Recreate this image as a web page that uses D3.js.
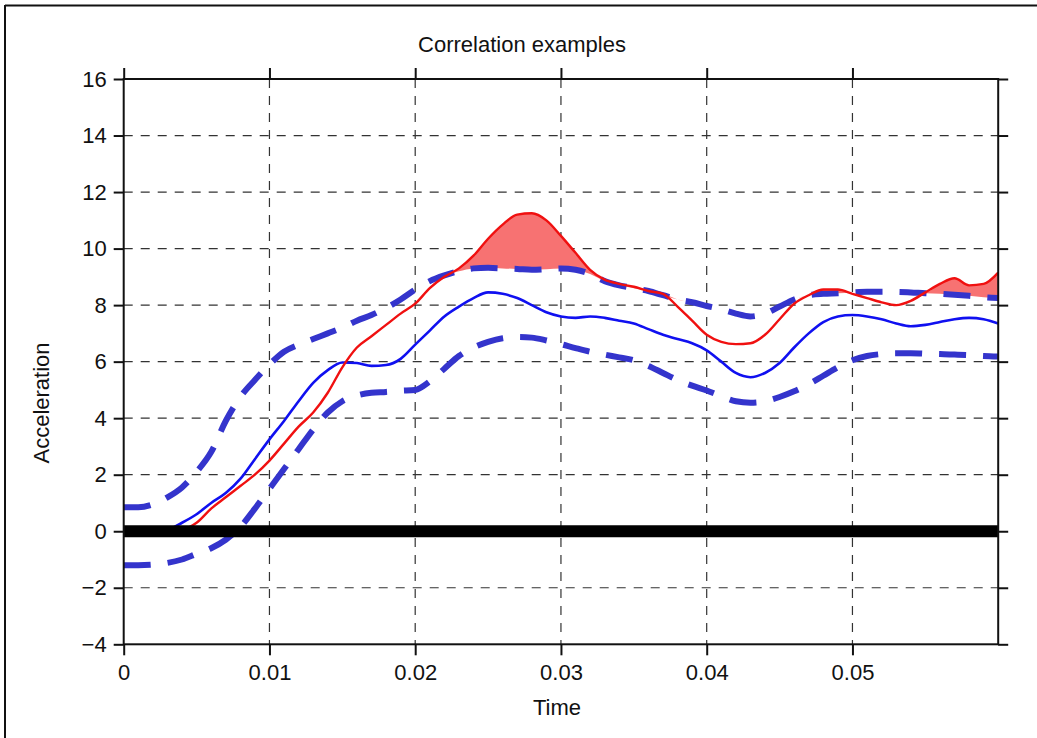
<!DOCTYPE html>
<html>
<head>
<meta charset="utf-8">
<script src="https://cdn.jsdelivr.net/npm/d3@7/dist/d3.min.js"></script>
<style>
  html, body { margin: 0; padding: 0; background: #fff; }
  svg { display: block; }
  text { font-family: "Liberation Sans", Arial, sans-serif; fill: #111; }
</style>
</head>
<body>
<svg id="chart" width="1037" height="738"></svg>
<script>
// ---- Data ----
const title = "Correlation examples";
const xLabel = "Time";
const yLabel = "Acceleration";

const time = [0.000,0.001,0.002,0.003,0.004,0.005,0.006,0.007,0.008,0.009,
              0.010,0.011,0.012,0.013,0.014,0.015,0.016,0.017,0.018,0.019,
              0.020,0.021,0.022,0.023,0.024,0.025,0.026,0.027,0.028,0.029,
              0.030,0.031,0.032,0.033,0.034,0.035,0.036,0.037,0.038,0.039,
              0.040,0.041,0.042,0.043,0.044,0.045,0.046,0.047,0.048,0.049,
              0.050,0.051,0.052,0.053,0.054,0.055,0.056,0.057,0.058,0.059,0.060];

const signal = [0,0,0,0,0.05,0.3,0.8,1.2,1.6,2.0,
                2.5,3.1,3.7,4.2,4.9,5.8,6.5,6.9,7.3,7.7,
                8.05,8.6,9.0,9.3,9.75,10.35,10.85,11.2,11.25,11.0,
                10.45,9.85,9.25,8.9,8.75,8.65,8.5,8.4,7.95,7.45,
                6.95,6.7,6.62,6.65,6.95,7.5,8.05,8.35,8.55,8.55,
                8.4,8.25,8.1,8.0,8.15,8.45,8.75,8.95,8.7,8.75,9.15];

const mean = [0,0,0,0.05,0.3,0.6,1.0,1.35,1.85,2.55,
              3.25,3.9,4.6,5.25,5.7,5.97,5.95,5.85,5.88,6.1,
              6.6,7.1,7.6,7.95,8.25,8.45,8.4,8.25,8.0,7.75,
              7.6,7.55,7.6,7.55,7.45,7.35,7.15,6.95,6.8,6.65,
              6.4,6.0,5.6,5.45,5.6,5.95,6.5,7.0,7.4,7.6,
              7.65,7.6,7.5,7.35,7.25,7.3,7.4,7.5,7.55,7.5,7.35];

const upper = [0.85,0.85,0.95,1.2,1.55,2.1,2.8,3.9,4.75,5.35,
               5.9,6.35,6.6,6.8,7.0,7.2,7.45,7.65,7.9,8.2,
               8.55,8.85,9.05,9.2,9.3,9.32,9.3,9.28,9.25,9.27,
               9.3,9.25,9.1,8.85,8.7,8.6,8.5,8.35,8.2,8.1,
               7.97,7.85,7.7,7.6,7.7,7.95,8.2,8.35,8.4,8.42,
               8.45,8.47,8.47,8.47,8.45,8.42,8.4,8.37,8.33,8.28,8.25];

const lower = [-1.2,-1.2,-1.18,-1.12,-1.0,-0.8,-0.6,-0.3,0.15,0.8,
               1.5,2.2,2.9,3.6,4.2,4.6,4.8,4.9,4.93,4.97,
               5.0,5.3,5.75,6.2,6.5,6.7,6.83,6.87,6.85,6.75,
               6.62,6.48,6.35,6.25,6.15,6.05,5.85,5.6,5.35,5.15,
               4.98,4.78,4.6,4.55,4.6,4.75,4.95,5.2,5.5,5.8,
               6.05,6.2,6.27,6.3,6.3,6.28,6.27,6.25,6.23,6.2,6.18];

const xTicks = [0, 0.01, 0.02, 0.03, 0.04, 0.05];
const xTickLabels = ["0", "0.01", "0.02", "0.03", "0.04", "0.05"];
const yTicks = [-4, -2, 0, 2, 4, 6, 8, 10, 12, 14, 16];
const xDomain = [0, 0.06];
const yDomain = [-4, 16];

// ---- Layout ----
const svg = d3.select("#chart");
const L = 123.7, R = 998.2, T = 79, B = 644.3;
const FONT = "'Liberation Sans', Arial, sans-serif";

const x = d3.scaleLinear().domain(xDomain).range([L, R]);
const y = d3.scaleLinear().domain(yDomain).range([B, T]);

// outer figure frame
svg.append("line").attr("x1", 5).attr("x2", 1037).attr("y1", 5.5).attr("y2", 5.5)
  .attr("stroke", "#111").attr("stroke-width", 2);
svg.append("line").attr("x1", 5).attr("x2", 5).attr("y1", 5).attr("y2", 738)
  .attr("stroke", "#111").attr("stroke-width", 2);

// grid
const grid = svg.append("g");
xTicks.slice(1).forEach(t => {
  grid.append("line").attr("x1", x(t)).attr("x2", x(t)).attr("y1", T).attr("y2", B)
    .attr("stroke", "#333").attr("stroke-width", 1.2).attr("stroke-dasharray", "9,8");
});
yTicks.slice(1, -1).forEach(v => {
  grid.append("line").attr("x1", L).attr("x2", R).attr("y1", y(v)).attr("y2", y(v))
    .attr("stroke", "#333").attr("stroke-width", 1.2).attr("stroke-dasharray", "9,8");
});

const pts = (arr) => time.map((t, i) => [t, arr[i]]);

// fill where signal exceeds upper bound
const fillArea = d3.area()
  .x((d, i) => x(time[i]))
  .y0((d, i) => y(upper[i]))
  .y1((d, i) => y(Math.max(signal[i], upper[i])))
  .curve(d3.curveMonotoneX);
svg.append("path").datum(time).attr("d", fillArea)
  .attr("fill", "#f77272").attr("stroke", "none");

const line = d3.line().x(d => x(d[0])).y(d => y(d[1])).curve(d3.curveMonotoneX);

// bounds (thick dashed)
[upper, lower].forEach(arr => {
  svg.append("path").datum(pts(arr)).attr("d", line)
    .attr("fill", "none").attr("stroke", "#3434cc").attr("stroke-width", 6)
    .attr("stroke-dasharray", "27,17");
});

// mean (solid blue)
svg.append("path").datum(pts(mean)).attr("d", line)
  .attr("fill", "none").attr("stroke", "#1010f0").attr("stroke-width", 2.6);

// signal (red)
svg.append("path").datum(pts(signal)).attr("d", line)
  .attr("fill", "none").attr("stroke", "#f01010").attr("stroke-width", 2.4);

// zero baseline (thick black)
svg.append("line").attr("x1", x(xDomain[0])).attr("x2", x(xDomain[1]))
  .attr("y1", y(0)).attr("y2", y(0))
  .attr("stroke", "#000").attr("stroke-width", 12);

// axes box
svg.append("rect").attr("x", L).attr("y", T).attr("width", R - L).attr("height", B - T)
  .attr("fill", "none").attr("stroke", "#111").attr("stroke-width", 2);

// axes with outward ticks
const xBottom = d3.axisBottom(x).tickValues(xTicks)
  .tickFormat((d, i) => xTickLabels[i]).tickSize(11).tickPadding(9);
const xTop = d3.axisTop(x).tickValues(xTicks).tickFormat("").tickSize(11);
const yLeft = d3.axisLeft(y).tickValues(yTicks).tickFormat(d => d < 0 ? "\u2212" + Math.abs(d) : d)
  .tickSize(10).tickPadding(7);
const yRight = d3.axisRight(y).tickValues(yTicks).tickFormat("").tickSize(10);

function styleAxis(g) {
  g.attr("font-size", null).attr("font-family", null);
  g.select(".domain").remove();
  g.selectAll(".tick line").attr("stroke", "#111").attr("stroke-width", 2);
  g.selectAll(".tick text").attr("fill", "#111")
    .style("font-size", "22px").style("font-family", FONT);
}
svg.append("g").attr("transform", `translate(0,${B})`).call(xBottom).call(styleAxis);
svg.append("g").attr("transform", `translate(0,${T})`).call(xTop).call(styleAxis);
svg.append("g").attr("transform", `translate(${L},0)`).call(yLeft).call(styleAxis);
svg.append("g").attr("transform", `translate(${R},0)`).call(yRight).call(styleAxis);

// titles
svg.append("text").attr("x", 522).attr("y", 52)
  .attr("text-anchor", "middle").style("font-size", "22px").text(title);
svg.append("text").attr("x", 557).attr("y", 715)
  .attr("text-anchor", "middle").style("font-size", "22px").text(xLabel);
svg.append("text").attr("transform", `translate(49,403) rotate(-90)`)
  .attr("text-anchor", "middle").style("font-size", "22px").text(yLabel);
</script>
</body>
</html>
